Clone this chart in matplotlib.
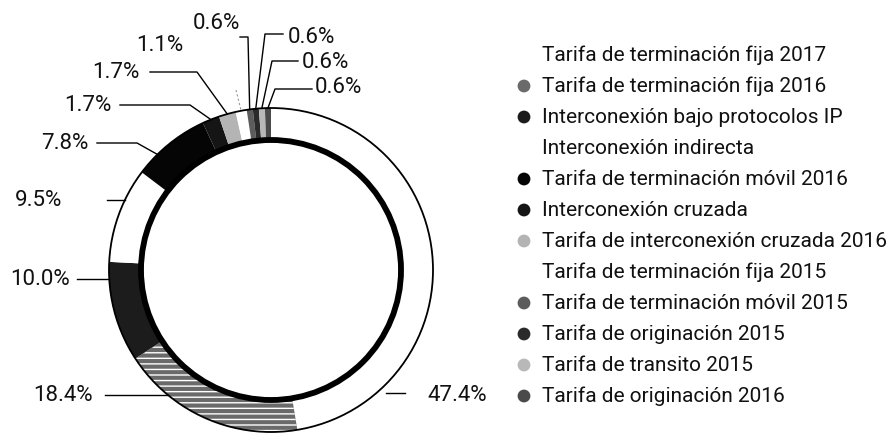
import matplotlib
matplotlib.use('Agg')
import matplotlib.pyplot as plt
from matplotlib.patches import Circle
import numpy as np

plt.rcParams['font.family'] = ['Roboto', 'DejaVu Sans']

W, H = 889, 448

categories = [
    'Tarifa de terminación fija 2017',
    'Tarifa de terminación fija 2016',
    'Interconexión bajo protocolos IP',
    'Interconexión indirecta',
    'Tarifa de terminación móvil 2016',
    'Interconexión cruzada',
    'Tarifa de interconexión cruzada 2016',
    'Tarifa de terminación fija 2015',
    'Tarifa de terminación móvil 2015',
    'Tarifa de originación 2015',
    'Tarifa de transito 2015',
    'Tarifa de originación 2016',
]
shares = [47.4, 18.4, 10.0, 9.5, 7.8, 1.7, 1.7, 1.1, 0.6, 0.6, 0.6, 0.6]
value_labels = [f'{v:.1f}%' for v in shares]

# greyscale fills, one per category
colors = ['#ffffff', '#6a6a6a', '#1c1c1c', '#ffffff', '#050505', '#151515',
          '#b4b4b4', '#ffffff', '#5c5c5c', '#2a2a2a', '#b8b8b8', '#4a4a4a']

# ring geometry in pixels (y measured downwards)
cx, cy = 271, 270
R, ring = 162, 32

def Y(y):
    return H - y

def ring_point(i, pos=0.5, r=R):
    start = sum(shares[:i])
    ang = np.deg2rad(360 * (start + pos * shares[i]) / sum(shares))
    return cx + r * np.sin(ang), cy - r * np.cos(ang)

def ring_edge_x(y, side):
    return cx + side * np.sqrt(R**2 - (y - cy)**2)

fig = plt.figure(figsize=(W / 100, H / 100), dpi=100)
ax = fig.add_axes([0, 0, 1, 1])

wedges, _ = ax.pie(shares, colors=colors, startangle=90, counterclock=False,
                   radius=R, center=(cx, Y(cy)),
                   wedgeprops=dict(width=ring, linewidth=0))
wedges[1].set_hatch('---')
wedges[1].set_edgecolor('white')

ax.add_patch(Circle((cx, Y(cy)), R, fill=False, ec='black', lw=1.3))
ax.add_patch(Circle((cx, Y(cy)), R - ring, fill=False, ec='black', lw=4.2))

# value labels: text anchor, alignment and leader style
lab_x = [427, 93, 70, 62, 88, 112, 140, 183, 240, 288, 302, 315]
lab_y = [395, 395, 279, 200, 143, 105, 72, 45, 23, 37, 62, 87]
lab_ha = ['left', 'right', 'right', 'right', 'right', 'right', 'right',
          'right', 'right', 'left', 'left', 'left']

# horizontal leaders running to the ring edge: (x start, y, side, gap)
edge_leaders = {0: (405, 393, 1, 10), 1: (105, 395, -1, 0),
                2: (77, 279, -1, 0), 3: (107, 200, -1, 0)}
# elbow leaders: fixed points, then into the wedge
elbow_leaders = {4: ([(97, 143), (137, 143)], 0.3),
                 5: ([(120, 105), (190, 105)], 0.5),
                 6: ([(150, 72), (197, 72)], 0.5),
                 8: ([(240, 37), (248, 37)], 0.5),
                 9: ([(283, 34), (265, 34)], 0.5),
                 10: ([(298, 61), (272, 61)], 0.5),
                 11: ([(312, 89), (275, 89)], 0.5)}

for i, txt in enumerate(value_labels):
    ax.text(lab_x[i], Y(lab_y[i]), txt, ha=lab_ha[i], va='center',
            fontsize=16, color='#111111')
    if i in edge_leaders:
        x0, yl, side, gap = edge_leaders[i]
        x1 = ring_edge_x(yl, side) + side * gap
        ax.plot([x0, x1], [Y(yl), Y(yl)], color='black', lw=1.0)
    elif i in elbow_leaders:
        pts, pos = elbow_leaders[i]
        px, py = ring_point(i, pos)
        xs = [p[0] for p in pts] + [px]
        ys = [Y(p[1]) for p in pts] + [Y(py)]
        ax.plot(xs, ys, color='black', lw=1.0)

# the 1.1% leader is barely visible
px, py = ring_point(7, 0.5)
ax.plot([236, px], [Y(90), Y(py)], color='#999999', lw=0.8, ls=(0, (2, 2)))

# legend column
leg_x, leg_y0, leg_dy = 524, 55, 31
for i, name in enumerate(categories):
    y = leg_y0 + i * leg_dy
    ax.scatter([leg_x], [Y(y)], s=85, color=colors[i], edgecolors='none')
    ax.text(leg_x + 18, Y(y), name, ha='left', va='center',
            fontsize=15, color='#111111')

ax.set_xlim(0, W)
ax.set_ylim(0, H)
ax.set_aspect('auto')
ax.axis('off')

fig.savefig('out.png', dpi=100, facecolor='white')
